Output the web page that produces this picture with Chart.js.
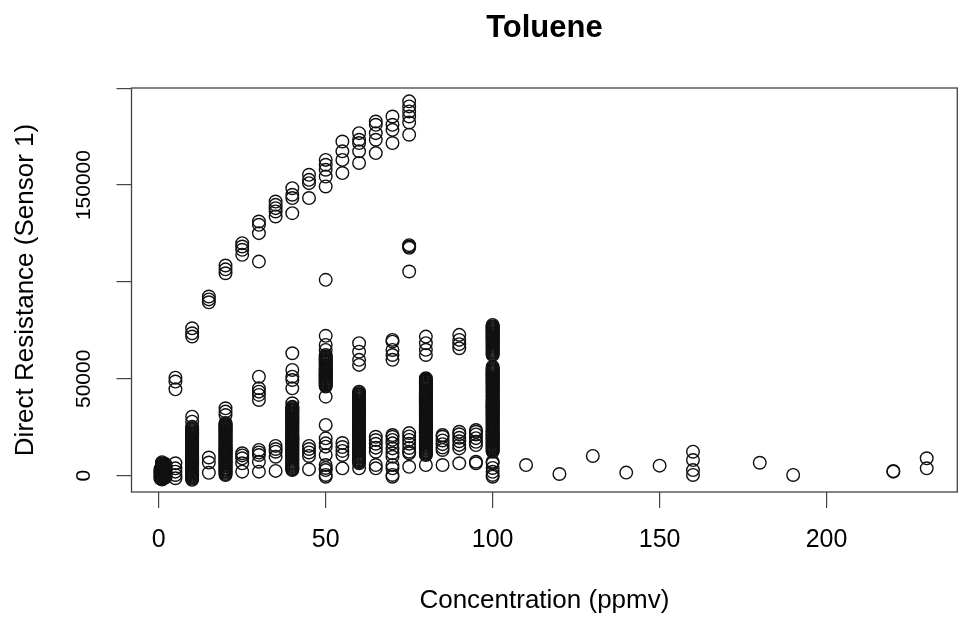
<!DOCTYPE html>
<html>
<head>
<meta charset="utf-8">
<script src="https://cdn.jsdelivr.net/npm/chart.js@4/dist/chart.umd.min.js"></script>
<style>
  html, body { margin: 0; padding: 0; background: #fff; overflow: hidden; width: 959px; height: 618px; }
  canvas { display: block; }
</style>
</head>
<body>
<canvas id="c" width="965" height="618"></canvas>
<script>
// ---- data ----
const chartTitle = 'Toluene';
const xTitle = 'Concentration (ppmv)';
const yTitle = 'Direct Resistance (Sensor 1)';
const xTicks = [0, 50, 100, 150, 200];
const yTicks = [0, 50000, 100000, 150000, 200000];
const yTickLabelsShown = [0, 50000, 150000];

// concentration levels (ppmv)
const concentration = [0.5, 1, 2, 5, 10, 15, 20, 25, 30, 35, 40, 45, 50, 55, 60, 65, 70, 75, 80, 85, 90, 95, 100,
  110, 120, 130, 140, 150, 160, 180, 190, 220, 230];

// direct resistance readings at each concentration level (same order)
const resistance = [
  [-1500, -500, 500, 1500, 2500, 3500],
  [-2000, -1400, -800, -200, 400, 1000, 1600, 2200, 2800, 3400, 4000, 4600, 5200, 5800, 6400, 7000],
  [-1000, -300, 400, 1100, 1800, 2500, 3200, 3900, 4600, 5300, 6000],
  [-1300, 400, 2100, 3800, 6400, 44600, 48600, 50600],
  [-2100, -1600, -1000, -500, 100, 600, 1100, 1700, 2200, 2700, 3300, 3800, 4300, 4900, 5400, 5900, 6500, 7000,
   7500, 8100, 8600, 9100, 9700, 10200, 10700, 11300, 11800, 12300, 12900, 13400, 13900, 14500, 15000, 15500,
   16100, 16600, 17100, 17700, 18200, 18700, 19300, 19800, 20300, 20900, 21400, 21900, 22500, 23000, 23500,
   24100, 24600, 25300, 27900, 30500, 71800, 73500, 76100],
  [1500, 6800, 9400, 89500, 91000, 92500],
  [400, 900, 1500, 2000, 2500, 3100, 3600, 4100, 4700, 5200, 5700, 6300, 6800, 7300, 7900, 8400, 8900, 9500,
   10000, 10500, 11100, 11600, 12100, 12700, 13200, 13700, 14300, 14800, 15300, 15900, 16400, 16900, 17500,
   18000, 18500, 19100, 19600, 20100, 20700, 21200, 21700, 22300, 22800, 23300, 23900, 24400, 24900, 25500,
   26000, 26600, 27200, 31300, 33100, 34800, 104500, 106500, 108500],
  [2100, 6400, 9000, 10500, 11600, 114000, 116600, 118300, 120000],
  [2100, 7200, 10700, 12000, 13300, 39100, 41700, 43400, 45100, 51100, 110500, 125200, 129500, 131200],
  [2500, 9800, 12400, 13800, 15400, 133800, 136400, 138100, 139800, 141500],
  [2900, 3400, 3900, 4500, 5000, 5500, 6100, 6600, 7100, 7700, 8200, 8700, 9300, 9800, 10300, 10900, 11400,
   11900, 12500, 13000, 13500, 14100, 14600, 15100, 15700, 16200, 16700, 17300, 17800, 18300, 18900, 19400,
   19900, 20500, 21000, 21500, 22100, 22600, 23100, 23700, 24200, 24700, 25300, 25800, 26300, 26900, 27400,
   27900, 28500, 29000, 29500, 30100, 30600, 31100, 31700, 32200, 32700, 33300, 33800, 34300, 34900, 35600,
   37400, 45100, 49400, 51100, 54600, 63200, 135500, 143300, 145000, 148400],
  [3300, 10200, 12000, 13800, 15400, 143300, 151000, 152700, 155300],
  [-500, 400, 2900, 4000, 5500, 10700, 15000, 16700, 19300, 26200, 40800, 46000, 46500, 47100, 47600, 48100,
   48700, 49200, 49700, 50300, 50800, 51300, 51900, 52400, 52900, 53500, 54000, 54500, 55100, 55600, 56100,
   56700, 57200, 57700, 58300, 58800, 59300, 59900, 60400, 60900, 61500, 62300, 64900, 67500, 72200, 101100,
   149300, 154400, 157900, 160500, 163000],
  [3800, 10700, 12800, 14800, 16900, 156200, 163000, 167400, 172500],
  [3800, 6400, 6900, 7500, 8000, 8500, 9100, 9600, 10100, 10700, 11200, 11700, 12300, 12800, 13300, 13900,
   14400, 14900, 15500, 16000, 16500, 17100, 17600, 18100, 18700, 19200, 19700, 20300, 20800, 21300, 21900,
   22400, 22900, 23500, 24000, 24500, 25100, 25600, 26100, 26700, 27200, 27700, 28300, 28800, 29300, 29900,
   30400, 30900, 31500, 32000, 32500, 33100, 33600, 34100, 34700, 35200, 35700, 36300, 36800, 37300, 37900,
   38400, 38900, 39500, 40000, 40500, 41100, 41600, 42100, 42700, 43400, 57200, 59800, 64000, 68400,
   161400, 167400, 171700, 173400, 176800],
  [3800, 5500, 12400, 14500, 16500, 18400, 20100, 166500, 173400, 176800, 181100, 182800],
  [-500, 400, 3800, 5500, 9800, 11600, 14100, 16700, 18500, 20100, 21000, 59800, 62300, 64900, 69200, 70100,
   171700, 178500, 181100, 185400],
  [4600, 11600, 12400, 14300, 16500, 18500, 20300, 22000, 105400, 117600, 118300, 119000,
   176000, 182300, 185400, 188000, 190600, 193200],
  [5500, 10700, 11200, 11800, 12300, 12800, 13400, 13900, 14400, 15000, 15500, 16000, 16600, 17100, 17600,
   18200, 18700, 19200, 19800, 20300, 20800, 21400, 21900, 22400, 23000, 23500, 24000, 24600, 25100, 25600,
   26200, 26700, 27200, 27800, 28300, 28800, 29400, 29900, 30400, 31000, 31500, 32000, 32600, 33100, 33600,
   34200, 34700, 35200, 35800, 36300, 36800, 37400, 37900, 38400, 39000, 39500, 40000, 40600, 41100, 41600,
   42200, 42700, 43200, 43800, 44300, 44800, 45400, 45900, 46400, 47000, 47500, 48000, 48600, 49100, 49600,
   50300, 62300, 65000, 68400, 71800],
  [5500, 13300, 14600, 16300, 18200, 20100, 21000],
  [6400, 14100, 15900, 17800, 19600, 21400, 22700, 65800, 67900, 70100, 72700],
  [6400, 7200, 15800, 17500, 19400, 21300, 22700, 23600],
  [-500, 400, 2000, 4000, 6400, 7200, 12400, 12900, 13500, 14000, 14500, 15100, 15600, 16100, 16700, 17200,
   17700, 18300, 18800, 19300, 19900, 20400, 20900, 21500, 22000, 22500, 23100, 23600, 24100, 24700, 25200,
   25700, 26300, 26800, 27300, 27900, 28400, 28900, 29500, 30000, 30500, 31100, 31600, 32100, 32700, 33200,
   33700, 34300, 34800, 35300, 35900, 36400, 36900, 37500, 38000, 38500, 39100, 39600, 40100, 40700, 41200,
   41700, 42300, 42800, 43300, 43900, 44400, 44900, 45500, 46000, 46500, 47100, 47600, 48100, 48700, 49200,
   49700, 50300, 50800, 51300, 51900, 52400, 52900, 53500, 54000, 54500, 55100, 55600, 56300,
   62300, 62800, 63400, 63900, 64400, 65000, 65500, 66000, 66600, 67100, 67600, 68200, 68700, 69200, 69800,
   70300, 70800, 71400, 71900, 72400, 73000, 73500, 74000, 74600, 75100, 75600, 76200, 76700, 77200, 77800],
  [5500],
  [900],
  [10200],
  [1600],
  [5200],
  [400, 2900, 8100, 12400],
  [6700],
  [400],
  [2100, 2400],
  [3800, 9000]
];

// ---- build points from the arrays ----
const points = [];
concentration.forEach((c, i) => {
  resistance[i].forEach(r => points.push({ x: c, y: r }));
});

const FONT = "'Liberation Sans', Arial, Helvetica, sans-serif";

const boxPlugin = {
  id: 'rbox',
  afterDraw(chart) {
    const { ctx, chartArea: a } = chart;
    ctx.save();
    ctx.strokeStyle = '#444';
    ctx.lineWidth = 1.3;
    ctx.strokeRect(a.left, a.top, a.right - a.left, a.bottom - a.top);
    ctx.restore();
  }
};

new Chart(document.getElementById('c'), {
  type: 'scatter',
  data: {
    datasets: [{
      data: points,
      showLine: false,
      pointStyle: 'circle',
      pointRadius: 6.3,
      pointHoverRadius: 6.3,
      pointBorderWidth: 1.4,
      pointBorderColor: '#111',
      pointBackgroundColor: 'rgba(0,0,0,0)'
    }]
  },
  options: {
    responsive: false,
    animation: false,
    devicePixelRatio: 1,
    events: [],
    layout: { padding: 0 },
    plugins: {
      legend: { display: false },
      tooltip: { enabled: false },
      title: {
        display: true,
        text: chartTitle,
        fullSize: false,
        color: '#000',
        font: { family: FONT, size: 31, weight: 'bold' },
        padding: { top: 9.5, bottom: 41.3 }
      }
    },
    scales: {
      x: {
        type: 'linear',
        min: -8.16,
        max: 239.16,
        afterFit(s) { s.height = 126; },
        afterBuildTicks(s) { s.ticks = xTicks.map(v => ({ value: v })); },
        ticks: {
          includeBounds: false,
          color: '#000',
          font: { family: FONT, size: 25 },
          padding: 17,
          maxRotation: 0,
          minRotation: 0,
          callback: v => String(v)
        },
        grid: { drawOnChartArea: false, drawTicks: true, tickLength: 16, color: '#444', lineWidth: 1.2 },
        border: { display: false },
        title: {
          display: true,
          text: xTitle,
          color: '#000',
          font: { family: FONT, size: 26 },
          padding: { top: 0, bottom: 2 }
        }
      },
      y: {
        type: 'linear',
        min: -8400,
        max: 200100,
        afterFit(s) { s.width = 131.5; },
        afterBuildTicks(s) { s.ticks = yTicks.map(v => ({ value: v })); },
        ticks: {
          includeBounds: false,
          color: '#000',
          font: { family: FONT, size: 21 },
          minRotation: 90,
          maxRotation: 90,
          crossAlign: 'center',
          padding: -2.5,
          callback: v => yTickLabelsShown.includes(v) ? String(v) : ''
        },
        grid: { drawOnChartArea: false, drawTicks: true, tickLength: 15, color: '#444', lineWidth: 1.2 },
        border: { display: false },
        title: {
          display: true,
          text: yTitle,
          color: '#000',
          font: { family: FONT, size: 26 },
          padding: { top: 10, bottom: 0 }
        }
      }
    }
  },
  plugins: [boxPlugin]
});
</script>
</body>
</html>
